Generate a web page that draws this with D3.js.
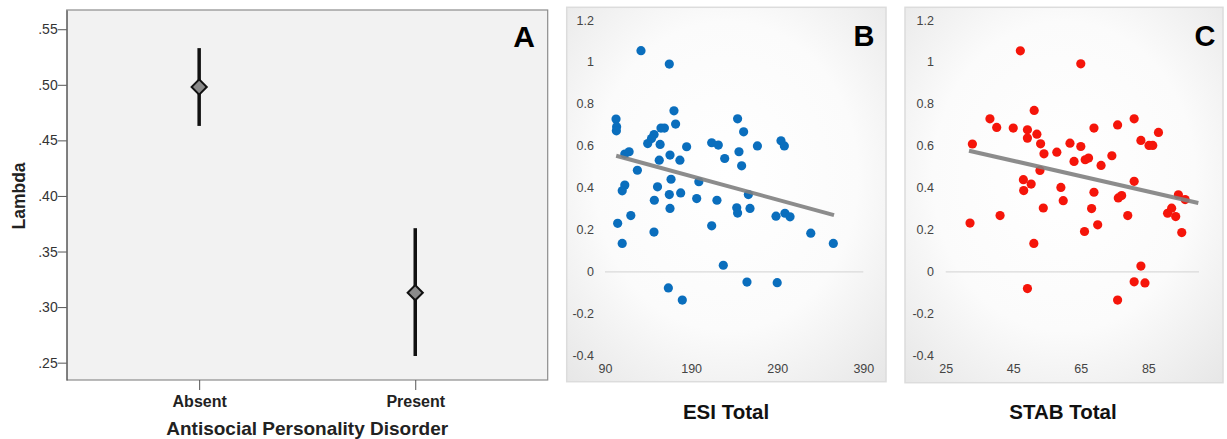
<!DOCTYPE html>
<html>
<head>
<meta charset="utf-8">
<script src="https://cdn.jsdelivr.net/npm/d3@7"></script>
<style>
  body { margin: 0; background: #fff; }
  svg { display: block; font-family: Arial, "Liberation Sans", sans-serif; }
</style>
</head>
<body>
<div id="chart"></div>
<script>
// panel A: lambda by antisocial personality disorder
const groups = ["Absent", "Present"];
const lambdaMean = [0.498, 0.313];
const lambdaLow = [0.463, 0.256];
const lambdaHigh = [0.533, 0.371];
const lambdaTicks = [0.25, 0.30, 0.35, 0.40, 0.45, 0.50, 0.55];

// panel B: ESI total vs lambda
const esiTotal = [131.8, 164.7, 170.1, 102.8, 103.5, 103.2, 172, 155, 159, 244, 251, 147, 144, 139.6, 154,
    118, 113, 184.8, 213.9, 221.6, 267, 294.4, 298.3, 165.5, 153, 177, 229, 245.6, 248.7, 127.6, 166.7, 199,
    113, 110, 151, 164.7, 177.9, 147.3, 196.5, 220, 256.5, 165.5, 243, 244, 258.4, 288.6, 299, 304.9, 120,
    104.7, 110, 146.9, 213.9, 227.4, 329, 355.2, 163.6, 179.8, 254.9, 290];
const esiLambda = [1.054, 0.990, 0.767, 0.728, 0.691, 0.672, 0.704, 0.685, 0.685, 0.729, 0.667, 0.654, 0.635, 0.611, 0.607,
    0.572, 0.561, 0.596, 0.615, 0.604, 0.600, 0.624, 0.600, 0.556, 0.532, 0.532, 0.540, 0.572, 0.505, 0.484, 0.441, 0.429,
    0.413, 0.386, 0.405, 0.368, 0.376, 0.341, 0.349, 0.341, 0.368, 0.302, 0.305, 0.280, 0.302, 0.265, 0.279, 0.262, 0.268,
    0.231, 0.135, 0.189, 0.219, 0.031, 0.184, 0.135, -0.077, -0.135, -0.049, -0.052];
const esiFitX = [103, 356];
const esiFitY = [0.553, 0.270];
const esiTicks = [90, 190, 290, 390];

// panel C: STAB total vs lambda
const stabTotal = [47.1, 65.0, 51.2, 38.1, 40.1, 45.0, 49.2, 49.2, 52.0, 53.1, 54.1, 32.9, 57.9, 61.8, 65.0, 68.9,
    75.9, 80.8, 82.8, 85.2, 86.3, 88.0, 63.0, 66.3, 67.3, 71.0, 74.2, 52.9, 48.0, 50.3, 48.1, 59.1, 59.8, 68.9, 76.1,
    77.1, 80.8, 93.9, 95.9, 53.9, 68.2, 78.9, 41.1, 32.2, 66.1, 70.0, 51.1, 49.2, 82.8, 80.8, 84.0, 75.9, 90.7, 91.9,
    93.1, 94.9];
const stabLambda = [1.053, 0.991, 0.769, 0.729, 0.688, 0.685, 0.677, 0.637, 0.656, 0.610, 0.562, 0.609, 0.570, 0.613, 0.597, 0.685,
    0.700, 0.729, 0.626, 0.602, 0.602, 0.664, 0.526, 0.534, 0.542, 0.507, 0.553, 0.483, 0.439, 0.418, 0.387, 0.402, 0.339, 0.379, 0.352,
    0.363, 0.431, 0.367, 0.344, 0.304, 0.301, 0.268, 0.268, 0.232, 0.192, 0.224, 0.135, -0.080, 0.027, -0.048, -0.053, -0.135, 0.279, 0.303,
    0.263, 0.187];
const stabFitX = [31.9, 99.8];
const stabFitY = [0.577, 0.328];
const stabTicks = [25, 45, 65, 85];

const scatterYTicks = [-0.4, -0.2, 0, 0.2, 0.4, 0.6, 0.8, 1, 1.2];

const svg = d3.select("#chart")
    .append("svg")
    .attr("width", 1227)
    .attr("height", 439);

const defs = svg.append("defs");
const grad = defs.append("radialGradient")
    .attr("id", "panelGrad")
    .attr("cx", "50%").attr("cy", "45%").attr("r", "75%");
grad.append("stop").attr("offset", "0%").attr("stop-color", "#ffffff");
grad.append("stop").attr("offset", "55%").attr("stop-color", "#fbfbfb");
grad.append("stop").attr("offset", "100%").attr("stop-color", "#e6e6e6");

// ---------- Panel A ----------
const frameA = { left: 66.7, right: 547.7, top: 10, bottom: 380 };

const xA = d3.scalePoint()
    .domain(groups)
    .range([frameA.left, frameA.right])
    .padding(0.613);

const yA = d3.scaleLinear()
    .domain([0.2344, 0.5673])
    .range([frameA.bottom, frameA.top]);

const gA = svg.append("g").attr("class", "panel-a");

gA.append("rect")
    .attr("x", frameA.left)
    .attr("y", frameA.top)
    .attr("width", frameA.right - frameA.left)
    .attr("height", frameA.bottom - frameA.top)
    .attr("fill", "#f2f2f2")
    .attr("stroke", "#8c8c8c")
    .attr("stroke-width", 1.2);

gA.append("g")
    .attr("transform", `translate(${frameA.left},0)`)
    .call(d3.axisLeft(yA).tickValues(lambdaTicks).tickFormat(d => d3.format(".2f")(d).replace(/^0/, "")).tickSize(9).tickSizeOuter(0))
    .call(g => g.select(".domain").attr("stroke", "#555"))
    .call(g => g.selectAll(".tick line").attr("stroke", "#555"))
    .call(g => g.selectAll("text")
        .attr("fill", "#333")
        .attr("x", -9)
        .style("font-size", "14px")
        .style("font-family", "Arial, 'Liberation Sans', sans-serif"));

gA.append("g")
    .attr("transform", `translate(0,${frameA.bottom})`)
    .call(d3.axisBottom(xA).tickSize(10).tickSizeOuter(0))
    .call(g => g.select(".domain").remove())
    .call(g => g.selectAll(".tick line").attr("stroke", "#555"))
    .call(g => g.selectAll("text")
        .attr("fill", "#222")
        .attr("y", 15.5)
        .style("font-size", "16px")
        .style("font-weight", "bold")
        .style("font-family", "Arial, 'Liberation Sans', sans-serif"));

// error bars
gA.selectAll(".err")
    .data(groups)
    .enter()
    .append("line")
    .attr("class", "err")
    .attr("x1", d => xA(d))
    .attr("x2", d => xA(d))
    .attr("y1", (d, i) => yA(lambdaLow[i]))
    .attr("y2", (d, i) => yA(lambdaHigh[i]))
    .attr("stroke", "#111")
    .attr("stroke-width", 3.5);

gA.selectAll(".mean")
    .data(groups)
    .enter()
    .append("path")
    .attr("class", "mean")
    .attr("d", d3.symbol(d3.symbolSquare, 115))
    .attr("transform", (d, i) => `translate(${xA(d)},${yA(lambdaMean[i])}) rotate(45)`)
    .attr("fill", "#8a8a8a")
    .attr("stroke", "#111")
    .attr("stroke-width", 2);

gA.append("text")
    .attr("x", 524)
    .attr("y", 47)
    .attr("text-anchor", "middle")
    .style("font-size", "30px")
    .style("font-weight", "bold")
    .text("A");

gA.append("text")
    .attr("transform", "translate(25,196) rotate(-90)")
    .attr("text-anchor", "middle")
    .style("font-size", "17.5px")
    .style("font-weight", "bold")
    .attr("fill", "#222")
    .text("Lambda");

gA.append("text")
    .attr("x", (frameA.left + frameA.right) / 2)
    .attr("y", 435)
    .attr("text-anchor", "middle")
    .style("font-size", "19px")
    .style("font-weight", "bold")
    .attr("fill", "#222")
    .text("Antisocial Personality Disorder");

// ---------- Panels B and C ----------
function scatterPanel(opt) {
    const g = svg.append("g");

    g.append("rect")
        .attr("x", opt.box[0])
        .attr("y", opt.box[1])
        .attr("width", opt.box[2] - opt.box[0])
        .attr("height", opt.box[3] - opt.box[1])
        .attr("fill", "url(#panelGrad)")
        .attr("stroke", "#dcdcdc")
        .attr("stroke-width", 1.5);

    const x = d3.scaleLinear().domain(opt.xDomain).range(opt.xRange);
    const y = d3.scaleLinear().domain([-0.4, 1.2]).range([355.7, 20]);

    // y labels
    g.append("g")
        .attr("transform", `translate(${opt.labelX},0)`)
        .call(d3.axisLeft(y).tickValues(scatterYTicks).tickFormat(d3.format("~g")).tickSize(0))
        .call(g => g.select(".domain").remove())
        .call(g => g.selectAll("text")
            .attr("x", 0)
            .attr("fill", "#444")
            .style("font-size", "12.5px")
            .style("font-family", "Arial, 'Liberation Sans', sans-serif"))
        .call(g => g.selectAll("text").text(d => d3.format("~g")(d).replace("−", "-")));

    // x labels
    g.append("g")
        .attr("transform", "translate(0,361.5)")
        .call(d3.axisBottom(x).tickValues(opt.xTicks).tickSize(0))
        .call(g => g.select(".domain").remove())
        .call(g => g.selectAll("text")
            .attr("fill", "#444")
            .style("font-size", "12.5px")
            .style("font-family", "Arial, 'Liberation Sans', sans-serif"));

    // zero line
    g.append("line")
        .attr("x1", x(opt.xDomain[0]))
        .attr("x2", x(opt.xDomain[1]))
        .attr("y1", y(0))
        .attr("y2", y(0))
        .attr("stroke", "#dadada")
        .attr("stroke-width", 1.2);

    g.selectAll(".dot")
        .data(opt.xs)
        .enter()
        .append("circle")
        .attr("class", "dot")
        .attr("cx", d => x(d))
        .attr("cy", (d, i) => y(opt.ys[i]))
        .attr("r", 4.6)
        .attr("fill", opt.color);

    g.append("line")
        .attr("x1", x(opt.fitX[0]))
        .attr("x2", x(opt.fitX[1]))
        .attr("y1", y(opt.fitY[0]))
        .attr("y2", y(opt.fitY[1]))
        .attr("stroke", "#7f7f7f")
        .attr("stroke-opacity", 0.9)
        .attr("stroke-width", 4);

    g.append("text")
        .attr("x", opt.letterX)
        .attr("y", 46)
        .attr("text-anchor", "middle")
        .style("font-size", "29px")
        .style("font-weight", "bold")
        .text(opt.letter);

    g.append("text")
        .attr("x", opt.titleX)
        .attr("y", 419)
        .attr("text-anchor", "middle")
        .style("font-size", "20.5px")
        .style("font-weight", "bold")
        .attr("fill", "#111")
        .text(opt.title);
}

scatterPanel({
    box: [566.7, 7.3, 886, 381.7],
    xDomain: [90, 390], xRange: [605, 863.3], xTicks: esiTicks,
    labelX: 594, xs: esiTotal, ys: esiLambda, color: "#0a6ebd",
    fitX: esiFitX, fitY: esiFitY,
    letter: "B", letterX: 864, title: "ESI Total", titleX: 726
});

scatterPanel({
    box: [905, 7.3, 1223, 382.7],
    xDomain: [25, 100], xRange: [945.7, 1199], xTicks: stabTicks,
    labelX: 934, xs: stabTotal, ys: stabLambda, color: "#f5150a",
    fitX: stabFitX, fitY: stabFitY,
    letter: "C", letterX: 1205, title: "STAB Total", titleX: 1063
});
</script>
</body>
</html>
